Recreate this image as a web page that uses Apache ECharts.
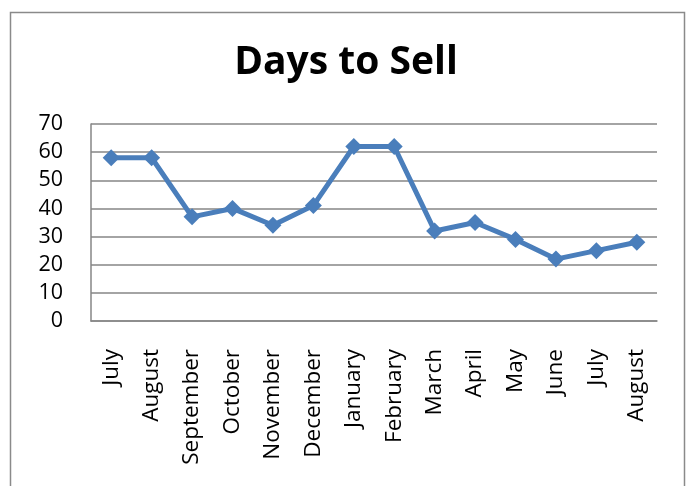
<!DOCTYPE html>
<html><head><meta charset="utf-8">
<script src="https://cdn.jsdelivr.net/npm/echarts@6/dist/echarts.min.js"></script>
<style>html,body{margin:0;padding:0;background:#fff}#c{width:692px;height:486px}</style>
</head><body><div id="c"></div>
<script>
const categories = ["July","August","September","October","November","December","January","February","March","April","May","June","July","August"];
const daysToSell = [58,58,37,40,34,41,62,62,32,35,29,22,25,28];
const yTicks = [0,10,20,30,40,50,60,70];

const chart = echarts.init(document.getElementById('c'), null, {renderer:'canvas'});
chart.setOption({
  animation:false,
  backgroundColor:'#fff',
  title:{text:'Days to Sell', left:'center', top:38,
    textStyle:{fontFamily:'Open Sans', fontWeight:'bold', fontSize:39, color:'#000'}},
  graphic:[{type:'rect', shape:{x:10.5,y:12.5,width:674,height:500},
    style:{fill:'none', stroke:'#8a8a8a', lineWidth:1.5}, silent:true}],
  grid:{left:91, right:35, top:124, bottom:165, containLabel:false},
  xAxis:{type:'category', data:categories, boundaryGap:true,
    axisLine:{show:true, lineStyle:{color:'#868686', width:1.5}},
    axisTick:{show:false},
    axisLabel:{rotate:90, margin:28, fontFamily:'Open Sans', fontSize:22.5, color:'#000', interval:0}},
  yAxis:{type:'value', min:yTicks[0], max:yTicks[yTicks.length-1], interval:10,
    axisLine:{show:true, lineStyle:{color:'#868686', width:1.5}},
    axisTick:{show:false},
    splitLine:{lineStyle:{color:'#868686', width:1.5}},
    axisLabel:{margin:28, fontFamily:'Open Sans', fontSize:21.5, color:'#000'}},
  series:[{type:'line', data:daysToSell, symbol:'diamond', symbolSize:17,
    lineStyle:{color:'#4A7EBB', width:5}, itemStyle:{color:'#4A7EBB'}}]
});
</script></body></html>
